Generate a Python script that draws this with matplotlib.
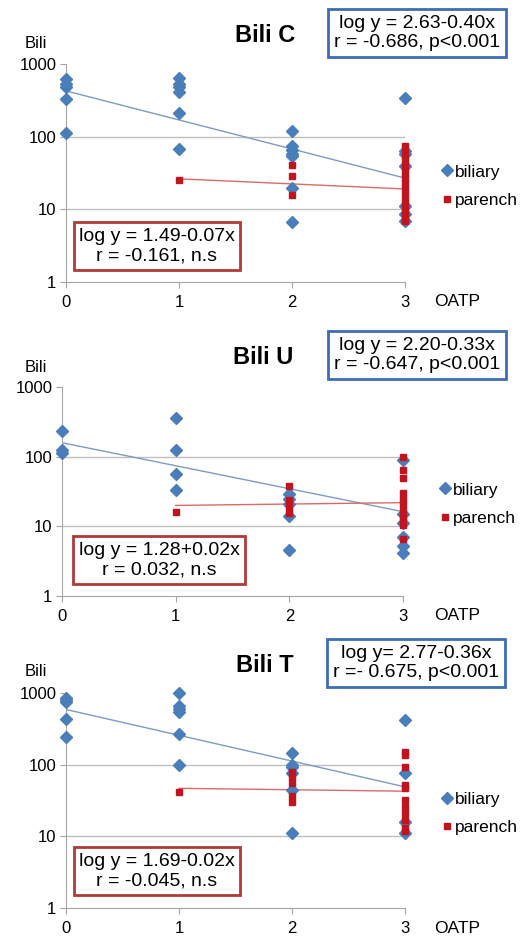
import numpy as np
import matplotlib.pyplot as plt

plt.rcParams['font.family'] = ['Liberation Sans', 'DejaVu Sans']

# Data (OATP score 0..3, bilirubin values)
titles = ['Bili C', 'Bili U', 'Bili T']

bil_x_c = [0, 0, 0, 0, 0, 1, 1, 1, 1, 1, 1, 2, 2, 2, 2, 2, 2, 2, 3, 3, 3, 3, 3, 3, 3]
bil_y_c = [620, 525, 490, 327, 111, 645, 525, 475, 414, 214, 68,
           119, 74, 66, 57, 54, 19.5, 6.6, 340, 63, 57, 40, 11, 8.5, 7]
par_x_c = [1, 2, 2, 2, 3, 3, 3, 3, 3, 3, 3, 3, 3, 3, 3, 3, 3, 3, 3, 3]
par_y_c = [25, 41, 29, 16, 74, 65, 55, 45, 38, 32, 27, 23, 19, 16, 13, 11, 9.5, 8.5, 7.5, 7]

bil_x_u = [0, 0, 0, 1, 1, 1, 1, 2, 2, 2, 2, 2, 3, 3, 3, 3, 3, 3]
bil_y_u = [234, 124, 113, 354, 126, 56, 33, 29.5, 25, 21, 14, 4.5, 89, 15, 11, 7, 5.2, 4.1]
par_x_u = [1, 2, 2, 2, 2, 3, 3, 3, 3, 3, 3, 3, 3, 3, 3, 3]
par_y_u = [16, 38, 24, 19, 15.4, 100, 65, 49, 30, 25, 21, 17, 14, 12, 10.5, 6.5]

bil_x_t = [0, 0, 0, 0, 0, 1, 1, 1, 1, 1, 1, 2, 2, 2, 2, 2, 2, 3, 3, 3, 3]
bil_y_t = [860, 790, 750, 440, 240, 1000, 650, 605, 545, 264, 100,
           147, 99, 94, 76, 45, 11, 416, 76, 16, 11]
par_x_t = [1, 2, 2, 2, 2, 2, 3, 3, 3, 3, 3, 3, 3, 3, 3, 3, 3]
par_y_t = [41, 80, 68, 55, 36, 30, 150, 136, 94, 52, 47, 32, 26, 21, 17, 13, 12]

# regression coefficients printed on the chart (log y = a + b x)
bil_fit = [(2.63, -0.40), (2.20, -0.33), (2.77, -0.36)]
par_fit = [(1.49, -0.07), (1.28, 0.02), (1.69, -0.02)]

bil_text = ['log y = 2.63-0.40x\nr = -0.686, p<0.001',
            'log y = 2.20-0.33x\nr = -0.647, p<0.001',
            'log y= 2.77-0.36x\nr =- 0.675, p<0.001']
par_text = ['log y = 1.49-0.07x\nr = -0.161, n.s',
            'log y = 1.28+0.02x\nr = 0.032, n.s',
            'log y = 1.69-0.02x\nr = -0.045, n.s']

bil_x = [bil_x_c, bil_x_u, bil_x_t]
bil_y = [bil_y_c, bil_y_u, bil_y_t]
par_x = [par_x_c, par_x_u, par_x_t]
par_y = [par_y_c, par_y_u, par_y_t]

W, H = 521, 938
fig = plt.figure(figsize=(W / 100, H / 100), dpi=100)

# panel geometry in pixels: left, right, top(1000), bottom(1)
panels = [(66, 405, 64, 282), (62, 403, 387, 596), (66, 405, 693, 908)]
title_pos = [(265, 36), (263, 357), (265, 665)]
bili_pos = [(36, 43), (36, 367), (36, 672)]
blue_box = [(417, 33), (417, 355), (416, 663)]
red_box = [(157, 246), (159, 560), (157, 871)]

blue = '#4A7EBB'
red = '#C0141E'
grid_c = '#BFBFBF'

for i in range(3):
    l, r, t, b = panels[i]
    ax = fig.add_axes([l / W, 1 - b / H, (r - l) / W, (b - t) / H])
    ax.set_yscale('log')
    ax.set_xlim(0, 3)
    ax.set_ylim(1, 1000)

    ax.plot(bil_x[i], bil_y[i], 'D', color=blue, markersize=6, clip_on=False,
            label='biliary', zorder=3)
    ax.plot(par_x[i], par_y[i], 's', color=red, markersize=4, clip_on=False,
            label='parench', zorder=4)

    xs = np.array([0, 3])
    a, k = bil_fit[i]
    ax.plot(xs, 10 ** (a + k * xs), color='#7F9AC4', lw=1, zorder=2)
    xs = np.array([1, 3])
    a, k = par_fit[i]
    ax.plot(xs, 10 ** (a + k * xs), color='#D96A6A', lw=1, zorder=2)

    for g in [10, 100]:
        ax.axhline(g, color=grid_c, lw=1, zorder=1)

    for s in ['top', 'right']:
        ax.spines[s].set_visible(False)
    for s in ['left', 'bottom']:
        ax.spines[s].set_color('#A6A6A6')
    ax.set_xticks([0, 1, 2, 3])
    ax.set_yticks([1, 10, 100, 1000])
    ax.set_yticklabels(['1', '10', '100', '1000'])
    ax.minorticks_off()
    ax.tick_params(axis='both', colors='#A6A6A6', labelcolor='black',
                   labelsize=12, length=4)
    ax.tick_params(axis='x', pad=5)
    ax.tick_params(axis='y', pad=3)

    ax.legend(loc='center left', bbox_to_anchor=(1.11, 0.44),
              frameon=False, fontsize=12.5, handlelength=0.5,
              handletextpad=0.2, labelspacing=0.75, borderaxespad=0,
              borderpad=0)

    fig.text(title_pos[i][0] / W, 1 - title_pos[i][1] / H, titles[i],
             fontsize=17, fontweight='bold', ha='center', va='center')
    fig.text(bili_pos[i][0] / W, 1 - bili_pos[i][1] / H, 'Bili',
             fontsize=12, ha='center', va='center')
    fig.text(457 / W, 1 - (b + 20) / H, 'OATP', fontsize=12.5,
             ha='center', va='center')

    fig.text(blue_box[i][0] / W, 1 - blue_box[i][1] / H, bil_text[i],
             fontsize=14, ha='center', va='center', linespacing=1.2,
             bbox=dict(boxstyle='square,pad=0.28', fc='white',
                       ec='#3D6CB3', lw=2))
    fig.text(red_box[i][0] / W, 1 - red_box[i][1] / H, par_text[i],
             fontsize=14, ha='center', va='center', linespacing=1.2,
             bbox=dict(boxstyle='square,pad=0.28', fc='white',
                       ec='#B03A3A', lw=2))

plt.savefig('out.png', dpi=100)
